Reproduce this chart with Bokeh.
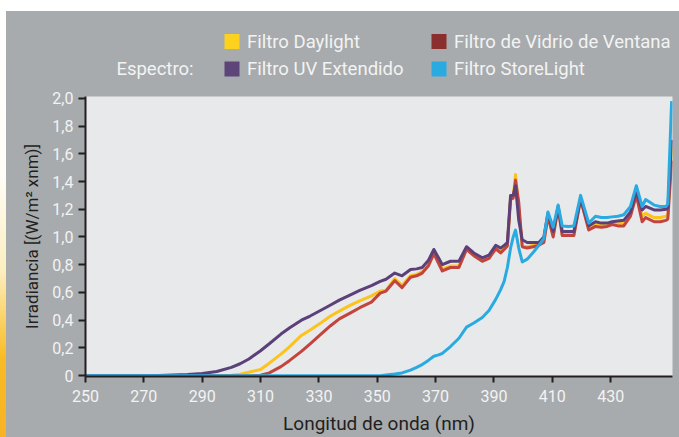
from bokeh.plotting import figure
from bokeh.layouts import column, row
from bokeh.models import Range1d, FixedTicker, CustomJSTickFormatter, ColumnDataSource, Spacer, Div
from bokeh.core.properties import value
from bokeh.embed import file_html
from bokeh.resources import INLINE

# ---------------- data ----------------
wavelength = [250, 260, 270, 275, 280, 285, 290, 295, 300, 303, 306, 310, 313, 317, 320, 324, 327, 331,
              334, 337, 341, 344, 348, 351, 353, 356, 358.5, 361.4, 363.5, 365.4, 367.5, 369.4, 371,
              372.3, 375.1, 378, 380.6, 383.1, 386, 388.3, 390.6, 392.3, 393.5, 394.6, 395.7, 396.6,
              397.4, 398.5, 399.7, 401.4, 403.5, 405.4, 407.1, 408.5, 410.3, 412, 413.4, 415.5, 417.4,
              419.7, 422.5, 424.8, 426.8, 428.8, 430.5, 432.5, 434.5, 436.8, 438.8, 440.8, 442, 444.9,
              447, 449, 449.6, 450.9]

uv_extended = [0, 0, 0, 0.002, 0.004, 0.008, 0.015, 0.03, 0.06, 0.086, 0.12, 0.18, 0.23, 0.30, 0.345,
               0.40, 0.43, 0.475, 0.51, 0.545, 0.585, 0.615, 0.65, 0.68, 0.695, 0.74, 0.72, 0.765, 0.77,
               0.78, 0.83, 0.91, 0.85, 0.80, 0.825, 0.825, 0.93, 0.885, 0.85, 0.87, 0.94, 0.92, 0.94,
               0.96, 1.30, 1.30, 1.37, 1.12, 0.98, 0.96, 0.96, 0.96, 1.0, 1.17, 1.04, 1.22, 1.04, 1.04,
               1.04, 1.28, 1.08, 1.11, 1.10, 1.10, 1.11, 1.115, 1.12, 1.18, 1.33, 1.195, 1.22, 1.195,
               1.195, 1.20, 1.21, 1.70]

daylight = [0, 0, 0, 0, 0, 0, 0, 0, 0.003, 0.01, 0.025, 0.045, 0.09, 0.155, 0.21, 0.29, 0.33, 0.385,
            0.43, 0.465, 0.51, 0.54, 0.575, 0.61, 0.615, 0.70, 0.65, 0.72, 0.73, 0.75, 0.80, 0.885, 0.82,
            0.77, 0.79, 0.79, 0.92, 0.87, 0.83, 0.85, 0.92, 0.89, 0.92, 0.94, 1.29, 1.29, 1.45, 1.20,
            0.94, 0.93, 0.94, 0.95, 0.97, 1.16, 1.01, 1.22, 1.02, 1.02, 1.02, 1.28, 1.06, 1.09, 1.085,
            1.085, 1.10, 1.095, 1.10, 1.16, 1.32, 1.15, 1.17, 1.14, 1.14, 1.15, 1.16, 1.65]

window_glass = [0, 0, 0, 0, 0, 0, 0, 0, 0, 0, 0, 0.003, 0.02, 0.065, 0.11, 0.175, 0.23, 0.305, 0.36,
                0.41, 0.455, 0.49, 0.53, 0.595, 0.61, 0.685, 0.635, 0.71, 0.72, 0.74, 0.79, 0.88, 0.81,
                0.755, 0.78, 0.78, 0.91, 0.865, 0.825, 0.845, 0.915, 0.885, 0.91, 0.935, 1.27, 1.28, 1.41,
                1.25, 0.93, 0.92, 0.93, 0.94, 0.96, 1.15, 1.0, 1.21, 1.01, 1.01, 1.01, 1.27, 1.05, 1.076,
                1.07, 1.076, 1.09, 1.08, 1.08, 1.15, 1.30, 1.11, 1.14, 1.11, 1.11, 1.12, 1.13, 1.55]

storelight = [0, 0, 0, 0, 0, 0, 0, 0, 0, 0, 0, 0, 0, 0, 0, 0, 0, 0, 0, 0, 0, 0, 0, 0, 0.005, 0.012,
              0.02, 0.04, 0.06, 0.08, 0.11, 0.14, 0.15, 0.16, 0.21, 0.27, 0.35, 0.38, 0.42, 0.47, 0.55,
              0.62, 0.68, 0.78, 0.92, 1.0, 1.05, 0.92, 0.82, 0.84, 0.89, 0.94, 0.99, 1.18, 1.07, 1.23,
              1.08, 1.075, 1.08, 1.30, 1.10, 1.15, 1.14, 1.14, 1.145, 1.15, 1.16, 1.22, 1.37, 1.22, 1.27,
              1.23, 1.22, 1.22, 1.24, 1.98]

series_names = ["Filtro Daylight", "Filtro de Vidrio de Ventana", "Filtro UV Extendido", "Filtro StoreLight"]
legend_prefix = "Espectro:"
x_ticks = [250, 270, 290, 310, 330, 350, 370, 390, 410, 430]
y_ticks = [0, 0.2, 0.4, 0.6, 0.8, 1.0, 1.2, 1.4, 1.6, 1.8, 2.0]
x_title = "Longitud de onda (nm)"
y_title = "Irradiancia [(W/m\u00b2 xnm)]"

# ---------------- styling / layout ----------------
GRAY = "#A7ABAD"
PLOT_BG = "#E8E9EB"
DARK = "#231F20"
LIGHT = "#F3F3F3"
FONT = "Roboto"

STRIP_W = 6          # decorative left strip
TOP_WHITE = 11       # white band at top
W = 679 - STRIP_W
FRAME_L, FRAME_R = 85, 672     # page pixels
FRAME_T, FRAME_B = 96, 378
MAIN_TOP_BORDER = 10
LEG_H = FRAME_T - MAIN_TOP_BORDER - TOP_WHITE
MAIN_H = 437 - TOP_WHITE - LEG_H
B_LEFT = FRAME_L - STRIP_W
B_RIGHT = 679 - FRAME_R

line_colors = ["#FBC31C", "#C2443D", "#5C4079", "#29ABE2"]
swatch_colors = ["#FDD21F", "#8A2F2E", "#5E4579", "#29ABE2"]

# ---------- legend strip (own figure, page-pixel coordinates) ----------
leg = figure(width=W, height=LEG_H, output_backend="svg", toolbar_location=None,
             x_range=Range1d(FRAME_L, FRAME_R),
             y_range=Range1d(TOP_WHITE + LEG_H, TOP_WHITE),
             x_axis_type=None, y_axis_type=None,
             min_border_left=B_LEFT, min_border_right=B_RIGHT, min_border_top=0, min_border_bottom=0)
leg.background_fill_color = GRAY
leg.border_fill_color = GRAY
leg.outline_line_color = None
leg.grid.visible = False

sw_x = [231.5, 438.5, 231.5, 438.5]
sw_y = [41, 41, 68.5, 68.5]
leg_src = ColumnDataSource(dict(x=sw_x, y=sw_y, tx=[x + 15 for x in sw_x],
                                name=series_names, color=swatch_colors))
leg.rect("x", "y", width=15, height=15, source=leg_src, fill_color="color", line_color=None)
leg.text("tx", "y", text="name", source=leg_src, text_font=value(FONT), text_font_size="18.5px",
         text_color=LIGHT, text_baseline="middle", text_align="left")
leg.text([193], [68.5], text=[legend_prefix], text_font=value(FONT), text_font_size="18.5px",
         text_color=LIGHT, text_baseline="middle", text_align="right")

# ---------- main chart ----------
p = figure(width=W, height=MAIN_H, output_backend="svg", toolbar_location=None,
           x_range=Range1d(250, 451.2), y_range=Range1d(-0.006, 2.013),
           min_border_left=B_LEFT, min_border_right=B_RIGHT,
           min_border_top=MAIN_TOP_BORDER, min_border_bottom=437 - FRAME_B)
p.border_fill_color = GRAY
p.background_fill_color = PLOT_BG
p.outline_line_color = None
p.grid.visible = False

for ys, c in zip([daylight, window_glass, uv_extended, storelight], line_colors):
    p.line(wavelength, ys, line_color=c, line_width=3, line_join="round")

for ax in (p.xaxis[0], p.yaxis[0]):
    ax.axis_line_color = DARK
    ax.axis_line_width = 2
    ax.major_tick_line_color = DARK
    ax.major_tick_line_width = 2
    ax.major_tick_in = 0
    ax.minor_tick_line_color = None
    ax.major_label_text_font = FONT
    ax.major_label_text_font_size = "16px"
    ax.major_label_text_color = LIGHT
    ax.axis_label_text_font = FONT
    ax.axis_label_text_font_style = "normal"
    ax.axis_label_text_color = DARK

p.xaxis.ticker = FixedTicker(ticks=x_ticks)
p.xaxis.major_tick_out = 6
p.xaxis.major_label_standoff = 7
p.xaxis.axis_label = x_title
p.xaxis.axis_label_text_font_size = "19px"
p.xaxis.axis_label_standoff = 7

p.yaxis.ticker = FixedTicker(ticks=y_ticks)
p.yaxis.major_tick_out = 7
p.yaxis.major_label_standoff = 5
p.yaxis.formatter = CustomJSTickFormatter(
    code="return tick == 0 ? '0' : tick.toFixed(1).replace('.', ',');")
p.yaxis.axis_label = y_title
p.yaxis.axis_label_text_font_size = "17px"
p.yaxis.axis_label_standoff = 7

strip = Div(text="", width=STRIP_W, height=437, margin=0, styles={
    "background": "linear-gradient(to bottom, #ffffff 0%, #fffdf6 40%, #fdeec0 62%, "
                  "#fbd56e 72%, #f9bb24 82%, #f7b324 100%)"})
top_band = Spacer(width=W, height=TOP_WHITE, margin=0, styles={"background-color": "#ffffff"})

right = column(top_band, leg, p, spacing=0, styles={"background-color": GRAY})
layout = row(strip, right, spacing=0)
open("out.html", "w").write(file_html(layout, INLINE))
